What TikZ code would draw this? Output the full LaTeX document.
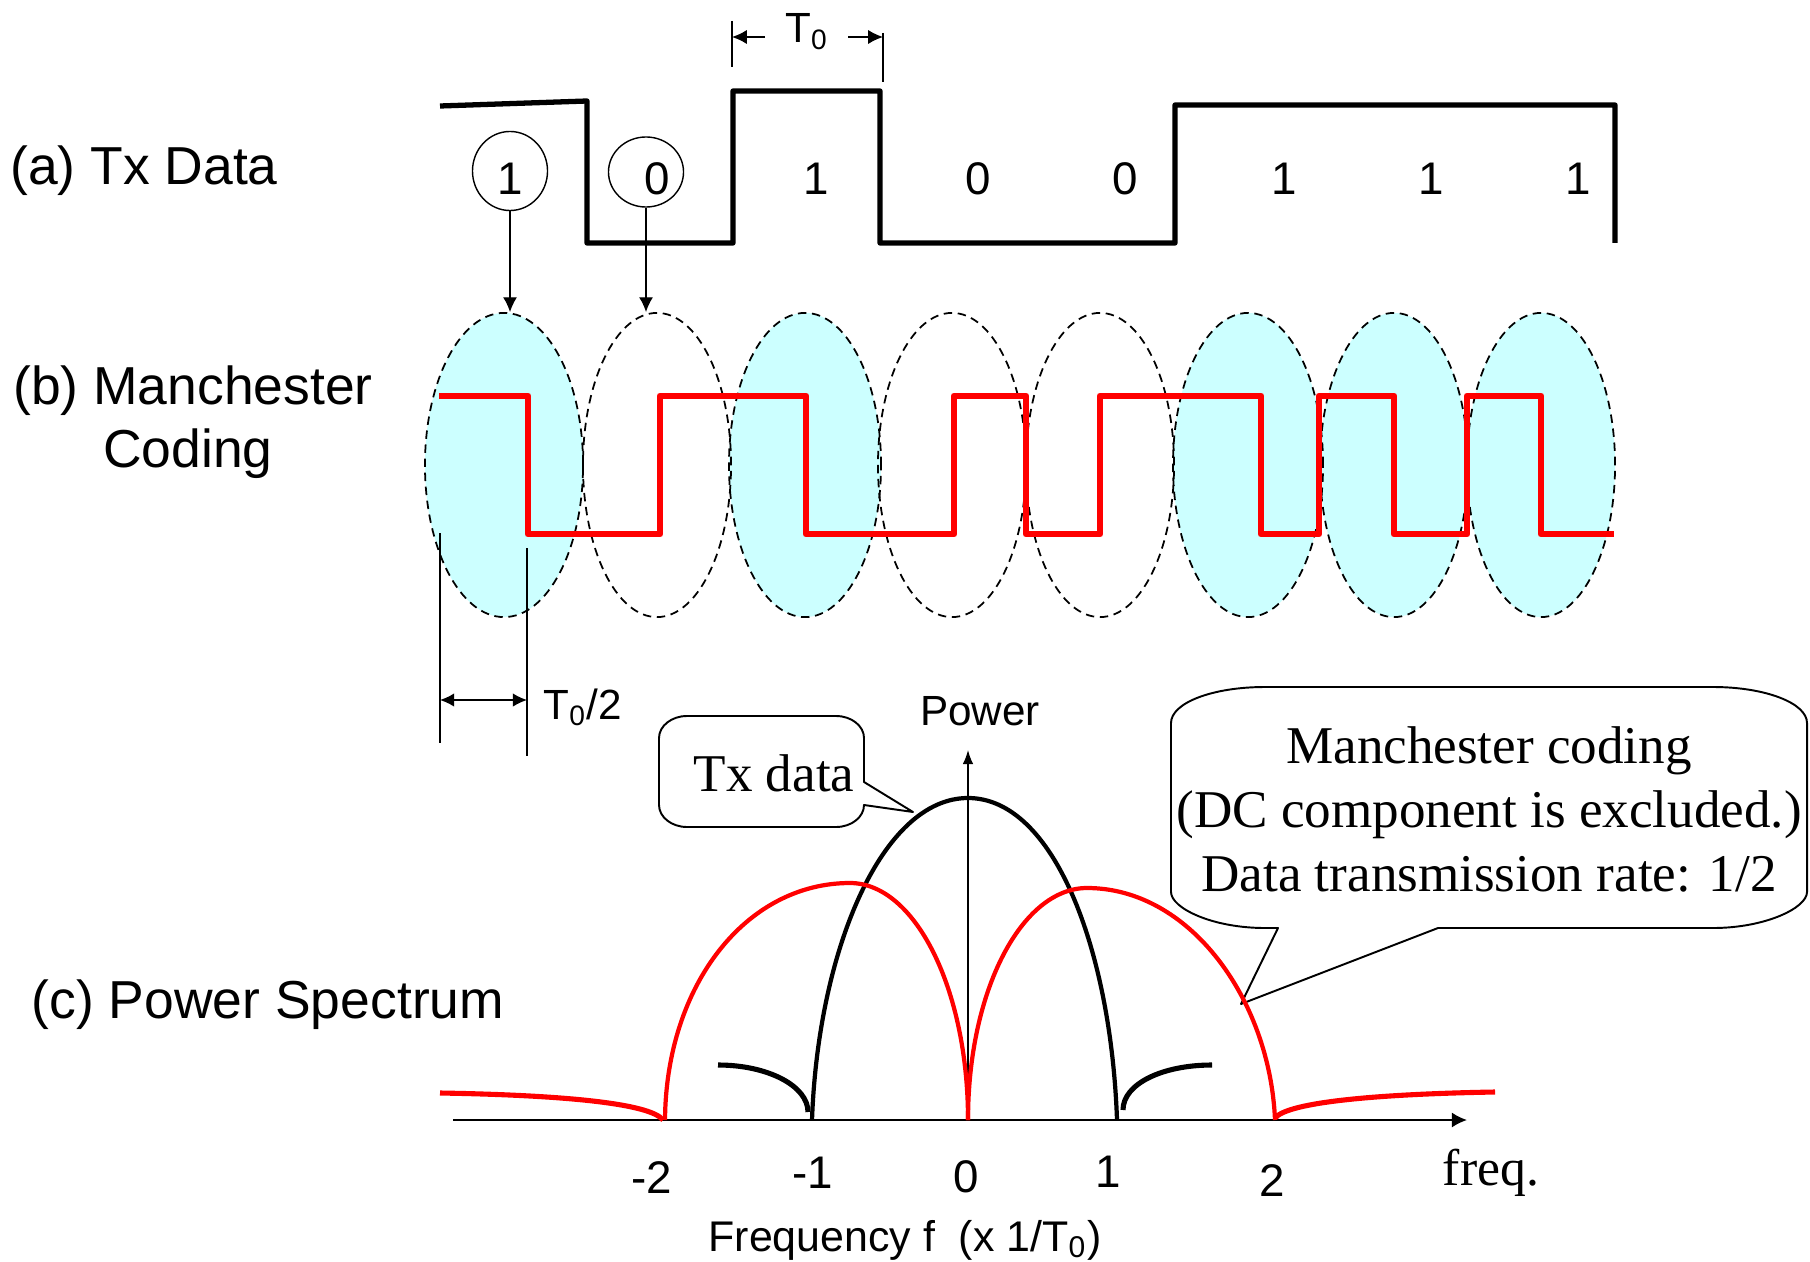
\documentclass[tikz,border=0pt]{standalone}
\usepackage{fontspec}
\setmainfont{Liberation Sans}
\newfontfamily\tms{Liberation Serif}
\usetikzlibrary{arrows.meta,shapes.geometric}
\definecolor{cyanfill}{HTML}{CCFFFF}
\definecolor{wred}{HTML}{FF0000}
\begin{document}
\begin{tikzpicture}[x=0.01cm,y=-0.01cm,line join=round,
  lblA/.style={font=\fontsize{15.2}{18}\selectfont,inner sep=0,anchor=base},
  digit/.style={font=\fontsize{13}{15}\selectfont,inner sep=0,anchor=base},
  smalltxt/.style={font=\fontsize{12}{14}\selectfont,inner sep=0,anchor=base},
  serif/.style={font=\tms\fontsize{15.1}{18}\selectfont,inner sep=0,anchor=base},
  txwave/.style={line width=1.5pt,line cap=butt},
  mcwave/.style={line width=1.9pt,wred},
  bitell/.style={ellipse,draw,dash pattern=on 2.4pt off 1.6pt,line width=0.5pt,minimum width=1.52cm,minimum height=3.04cm,inner sep=0},
  bitcirc/.style={ellipse,draw,line width=0.4pt,inner sep=0},
  thinl/.style={line width=0.4pt},
  arr/.style={-{Latex[length=4.2pt,width=4pt]},line width=0.4pt},
  darr/.style={{Latex[length=4pt,width=3.8pt]}-{Latex[length=4pt,width=3.8pt]},line width=0.4pt},
  callout/.style={line width=0.55pt,fill=white},
  blk/.style={line width=1.2pt},
  blkside/.style={line width=1.45pt},
  redlobe/.style={line width=1.2pt,wred},
  redtail/.style={line width=1.45pt,wred}]
\useasboundingbox (0,0) rectangle (1810,1261);

% ---------- left labels ----------
\node[lblA] (la) at (144,185) {(a) Tx Data};
\node[lblA] (lb) at (193,404) {(b) Manchester};
\node[lblA] (lb2) at (188,467) {Coding};
\node[lblA] (lc) at (268,1018) {(c) Power Spectrum};

% ---------- (a) Tx data waveform ----------
\draw[txwave] (440,106) -- (587,101) -- (587,243) -- (733,243) -- (733,91) -- (880,91)
  -- (880,243) -- (1175,243) -- (1175,105) -- (1615,105) -- (1615,243);

\node[digit] (b1) at (510,195) {1};
\node[digit] (b2) at (657,195) {0};
\node[digit] (b3) at (816,195) {1};
\node[digit] (b4) at (978,195) {0};
\node[digit] (b5) at (1125,195) {0};
\node[digit] (b6) at (1284,195) {1};
\node[digit] (b7) at (1431,195) {1};
\node[digit] (b8) at (1578,195) {1};

\node[bitcirc,minimum width=0.75cm,minimum height=0.79cm] (c1) at (510,171) {};
\node[bitcirc,minimum width=0.75cm,minimum height=0.70cm] (c2) at (646,172) {};

% T0 dimension
\draw[thinl] (732,21) -- (732,67);
\draw[thinl] (883,33) -- (883,82);
\node[smalltxt] (t0) at (807,43) {T\textsubscript{0}};
\coordinate (t0L) at (732,37);
\coordinate (t0R) at (883,37);
\coordinate (t0a) at (765,37);
\coordinate (t0b) at (848,37);
\draw[arr] (t0a) -- (t0L);
\draw[arr] (t0b) -- (t0R);

% ---------- (b) Manchester ----------
\foreach \cx/\rx in {504/0.79,805/0.76,1248/0.75,1394/0.74,1541/0.74}
  \fill[cyanfill] (\cx,465) ellipse [x radius=\rx cm, y radius=1.52cm];
\node[bitell,minimum width=1.58cm] (e1) at (504,465) {};
\node[bitell,minimum width=1.48cm] (e2) at (657,465) {};
\node[bitell] (e3) at (805,465) {};
\node[bitell,minimum width=1.48cm] (e4) at (952,465) {};
\node[bitell,minimum width=1.48cm] (e5) at (1100,465) {};
\node[bitell,minimum width=1.50cm] (e6) at (1248,465) {};
\node[bitell,minimum width=1.48cm] (e7) at (1394,465) {};
\node[bitell,minimum width=1.48cm] (e8) at (1541,465) {};

\draw[mcwave] (439,396) -- (528,396) -- (528,534) -- (660,534) -- (660,396) -- (806,396)
  -- (806,534) -- (954,534) -- (954,396) -- (1026,396) -- (1026,534) -- (1100,534)
  -- (1100,396) -- (1261,396) -- (1261,534) -- (1319,534) -- (1319,396) -- (1394,396)
  -- (1394,534) -- (1467,534) -- (1467,396) -- (1541,396) -- (1541,534) -- (1614,534);

\draw[arr] (c1.south) -- (c1.south |- e1.north);
\draw[arr] (c2.south) -- (c2.south |- e2.north);

% T0/2 dimension
\coordinate (hL) at (440,700);
\coordinate (hR) at (527,700);
\draw[thinl] (440,533) -- (440,743);
\draw[thinl] (527,548) -- (527,756);
\draw[darr] (hL) -- (hR);
\node[smalltxt,anchor=base west] (t02) at (543,719) {T\textsubscript{0}/2};

% ---------- (c) spectrum ----------
% callouts
\draw[callout] (864,782) -- (913,812) -- (864,805)
  .. controls (864,817) and (851.5,827) .. (836,827) -- (687,827)
  .. controls (671.5,827) and (659,817) .. (659,805) -- (659,738)
  .. controls (659,726) and (671.5,716) .. (687,716) -- (836,716)
  .. controls (851.5,716) and (864,726) .. (864,738) -- cycle;
\node[serif] (txd) at (774,791) {Tx data};

\draw[callout] (1278,928) -- (1241,1004) -- (1438,928) -- (1713,928)
  .. controls (1765,928) and (1807,908) .. (1807,892) -- (1807,723)
  .. controls (1807,703) and (1765,687) .. (1713,687) -- (1265,687)
  .. controls (1212,687) and (1171,703) .. (1171,723) -- (1171,892)
  .. controls (1171,908) and (1212,928) .. (1265,928) -- cycle;
\node[serif] (m1) at (1489,763) {Manchester coding};
\node[serif] (m2) at (1489,827) {(DC component is excluded.)};
\node[serif] (m3) at (1489,891) {Data transmission rate: 1/2};

% axes
\coordinate (ax0) at (453,1120);
\coordinate (ax1) at (1467,1120);
\coordinate (org) at (968,1120);
\coordinate (ptop) at (968,750);
\draw[-{Latex[length=4.3pt,width=4.3pt]},line width=0.6pt] (ax0) -- (ax1);
\draw[-{Latex[length=4pt,width=3pt]},line width=0.4pt] (org) -- (ptop);
\node[smalltxt] (pw) at (980,725) {Power};

% black (Tx data) spectrum
\draw[blk] (812,1120) .. controls (818,950) and (882,798) .. (968,798)
  .. controls (1054,798) and (1111,950) .. (1117,1120);
\draw[blkside,line cap=butt] (718,1065) .. controls (768,1065) and (808,1086) .. (808,1112);
\draw[blkside,line cap=butt] (1123,1110) .. controls (1123,1084) and (1162,1065) .. (1212,1065);

% red (Manchester) spectrum
\draw[redlobe] (665,1120) .. controls (666,985) and (746,883) .. (850,883)
  .. controls (915,883) and (968,989) .. (968,1120);
\draw[redlobe] (968,1120) .. controls (968,990) and (1022,888) .. (1087,888)
  .. controls (1190,888) and (1270,1000) .. (1275,1120);
\draw[redtail] (440,1093) .. controls (560,1095) and (650,1103) .. (663,1120);
\draw[redtail] (1275,1118) .. controls (1288,1102) and (1378,1094) .. (1495,1092);

% tick labels
\node[digit] (fm2) at (652,1193) {-2};
\node[digit] (fm1) at (813,1188) {-1};
\node[digit] (f0) at (966,1192) {0};
\node[digit] (f1) at (1108,1187) {1};
\node[digit] (f2) at (1272,1196) {2};
\node[font=\tms\fontsize{14.7}{17}\selectfont,inner sep=0,anchor=base] (fq) at (1491,1185) {freq.};
\node[font=\fontsize{12.2}{14}\selectfont,inner sep=0,anchor=base] (fl) at (905,1251) {Frequency f\ \ (x 1/T\textsubscript{0})};
\end{tikzpicture}
\end{document}
